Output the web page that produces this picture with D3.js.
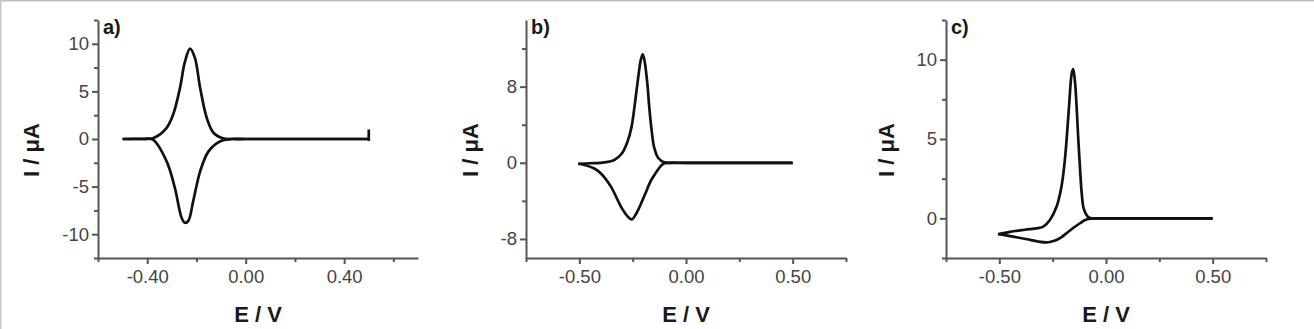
<!DOCTYPE html>
<html lang="en">
<head>
    <meta charset="UTF-8">
    <title>Cyclic voltammograms a) b) c)</title>
    <script src="https://d3js.org/d3.v7.min.js"></script>
    <style>
        body {
            margin: 0;
            background: #fff;
            font-family: 'Liberation Sans', Arial, sans-serif;
        }
        .axis path, .axis line {
            stroke: #555;
            stroke-width: 2;
        }
        .axis text {
            fill: #444;
            font-size: 18.5px;
            font-family: 'Liberation Sans', Arial, sans-serif;
        }
        .cv-line {
            fill: none;
            stroke: #111;
            stroke-width: 2.7;
        }
        .axis-title {
            font-size: 22px;
            font-weight: bold;
            fill: #1a1a1a;
        }
        .panel-label {
            font-size: 20px;
            font-weight: bold;
            fill: #1a1a1a;
        }
    </style>
</head>
<body>
    <div id="chart"></div>

    <script>
        // Data: [E (V), I (uA)]
        // a) forward scan (oxidation), then reverse scan
        const aForward = [
            [-0.50, 0], [-0.42, 0.02], [-0.377, 0.08], [-0.322, 1.15], [-0.295, 2.55],
            [-0.267, 5.35], [-0.247, 8.1], [-0.226, 9.5], [-0.206, 8.5], [-0.185, 5.35],
            [-0.158, 2.2], [-0.13, 0.63], [-0.089, 0.05], [-0.05, 0], [0.0, 0], [0.5, 0]
        ];
        const aReverse = [
            [0.5, 0], [0.0, 0], [-0.06, 0], [-0.103, -0.24], [-0.151, -1.3],
            [-0.185, -3.4], [-0.213, -6.5], [-0.233, -8.6], [-0.247, -8.8], [-0.26, -8.3],
            [-0.288, -5.1], [-0.322, -2.3], [-0.377, -0.07], [-0.42, 0], [-0.50, 0]
        ];
        // switching spike at the positive end of scan a)
        const aSwitch = [[0.5, -0.2], [0.5, 1.0]];

        // b)
        const bForward = [
            [-0.505, -0.1], [-0.45, -0.05], [-0.40, 0], [-0.336, 0.3], [-0.30, 1.0],
            [-0.273, 2.3], [-0.255, 3.8], [-0.242, 5.8], [-0.225, 8.8], [-0.212, 10.8],
            [-0.203, 11.4], [-0.195, 10.8], [-0.182, 8.5], [-0.172, 5.8], [-0.16, 3.2],
            [-0.149, 1.6], [-0.13, 0.5], [-0.102, 0.05], [-0.06, 0], [0.0, 0], [0.5, 0]
        ];
        const bReverse = [
            [0.5, 0], [0.0, 0], [-0.08, 0], [-0.10, -0.05], [-0.117, -0.3], [-0.14, -1.0],
            [-0.164, -1.85], [-0.19, -3.2], [-0.211, -4.3], [-0.235, -5.4], [-0.255, -5.95],
            [-0.275, -5.6], [-0.305, -4.6], [-0.352, -2.5], [-0.40, -1.1], [-0.43, -0.6],
            [-0.47, -0.25], [-0.505, -0.1]
        ];

        // c)
        const cForward = [
            [-0.506, -1.0], [-0.45, -0.85], [-0.38, -0.72], [-0.32, -0.62], [-0.294, -0.52],
            [-0.263, -0.1], [-0.232, 0.73], [-0.209, 1.98], [-0.195, 3.4], [-0.185, 4.9],
            [-0.172, 7.3], [-0.161, 9.1], [-0.154, 9.4], [-0.146, 8.7], [-0.138, 7.1],
            [-0.13, 5.0], [-0.122, 3.2], [-0.114, 1.6], [-0.106, 0.7], [-0.095, 0.3],
            [-0.083, 0.08], [-0.07, 0], [-0.03, 0], [0.0, 0], [0.5, 0]
        ];
        const cReverse = [
            [0.5, 0], [0.0, 0], [-0.05, 0], [-0.075, -0.02], [-0.10, -0.12], [-0.122, -0.31],
            [-0.153, -0.6], [-0.185, -0.94], [-0.21, -1.2], [-0.232, -1.36], [-0.255, -1.46],
            [-0.278, -1.52], [-0.32, -1.46], [-0.37, -1.32], [-0.42, -1.19], [-0.47, -1.07],
            [-0.506, -1.0]
        ];

        // Tick values
        const aXMajor = [-0.4, 0, 0.4];
        const aXMinor = [-0.6, -0.2, 0.2, 0.6];
        const aYMajor = [10, 5, 0, -5, -10];
        const aYMinor = [12.5, 7.5, 2.5, -2.5, -7.5, -12.5];

        const bXMajor = [-0.5, 0, 0.5];
        const bXMinor = [-0.75, -0.25, 0.25, 0.75];
        const bYMajor = [8, 0, -8];
        const bYMinor = [12, 4, -4];

        const cXMajor = [-0.5, 0, 0.5];
        const cXMinor = [-0.75, -0.25, 0.25, 0.75];
        const cYMajor = [10, 5, 0];
        const cYMinor = [12.5, 7.5, 2.5, -2.5];

        const panelLabels = ['a)', 'b)', 'c)'];
        const xTitle = 'E / V';
        const yTitle = 'I / \u03bcA';

        // Layout
        const W = 1314, H = 329;
        const panels = [
            { label: panelLabels[0], left: 98, right: 418, xDomain: [-0.6, 0.7], yDomain: [-12.5, 12.5],
              fwd: aForward, rev: aReverse, extra: aSwitch,
              xMajor: aXMajor, xMinor: aXMinor, yMajor: aYMajor, yMinor: aYMinor, yTitleX: 31 },
            { label: panelLabels[1], left: 526, right: 846, xDomain: [-0.75, 0.75], yDomain: [-10, 15],
              fwd: bForward, rev: bReverse, extra: null,
              xMajor: bXMajor, xMinor: bXMinor, yMajor: bYMajor, yMinor: bYMinor, yTitleX: 470 },
            { label: panelLabels[2], left: 946, right: 1266, xDomain: [-0.75, 0.75], yDomain: [-2.5, 12.5],
              fwd: cForward, rev: cReverse, extra: null,
              xMajor: cXMajor, xMinor: cXMinor, yMajor: cYMajor, yMinor: cYMinor, yTitleX: 886 }
        ];
        const plotTop = 20, plotBottom = 258;

        const svg = d3.select('#chart')
            .append('svg')
            .attr('width', W)
            .attr('height', H);

        // thin frame on top and left edges
        svg.append('line').attr('x1', 0).attr('x2', W).attr('y1', 0.75).attr('y2', 0.75)
            .attr('stroke', '#bdbdbd').attr('stroke-width', 1.5);
        svg.append('line').attr('x1', 0.75).attr('x2', 0.75).attr('y1', 0).attr('y2', H)
            .attr('stroke', '#c8c8c8').attr('stroke-width', 1.5);

        panels.forEach(p => {
            const x = d3.scaleLinear().domain(p.xDomain).range([p.left, p.right]);
            const y = d3.scaleLinear().domain(p.yDomain).range([plotBottom, plotTop]);

            // minor ticks first
            svg.append('g')
                .attr('class', 'axis')
                .attr('transform', `translate(0,${plotBottom})`)
                .call(d3.axisBottom(x).tickValues(p.xMinor).tickSize(4).tickSizeOuter(0).tickFormat(''))
                .call(g => g.select('.domain').remove());
            svg.append('g')
                .attr('class', 'axis')
                .attr('transform', `translate(${p.left},0)`)
                .call(d3.axisLeft(y).tickValues(p.yMinor).tickSize(4).tickSizeOuter(0).tickFormat(''))
                .call(g => g.select('.domain').remove());

            // major axes
            svg.append('g')
                .attr('class', 'axis')
                .attr('transform', `translate(0,${plotBottom})`)
                .call(d3.axisBottom(x).tickValues(p.xMajor).tickSize(6).tickSizeOuter(0).tickPadding(6)
                    .tickFormat(d => d.toFixed(2)));
            svg.append('g')
                .attr('class', 'axis')
                .attr('transform', `translate(${p.left},0)`)
                .call(d3.axisLeft(y).tickValues(p.yMajor).tickSize(6).tickSizeOuter(0).tickPadding(3)
                    .tickFormat(d => String(d)));

            // curves
            const line = d3.line()
                .x(d => x(d[0]))
                .y(d => y(d[1]))
                .curve(d3.curveCatmullRom.alpha(0.5));
            [p.fwd, p.rev].forEach(branch => {
                svg.append('path')
                    .datum(branch)
                    .attr('class', 'cv-line')
                    .attr('d', line);
            });
            if (p.extra) {
                svg.append('path')
                    .datum(p.extra)
                    .attr('class', 'cv-line')
                    .attr('d', d3.line().x(d => x(d[0])).y(d => y(d[1])));
            }

            // titles
            svg.append('text')
                .attr('class', 'axis-title')
                .attr('x', (p.left + p.right) / 2)
                .attr('y', 322)
                .attr('text-anchor', 'middle')
                .text(xTitle);
            svg.append('text')
                .attr('class', 'axis-title')
                .attr('transform', `translate(${p.yTitleX + 8},${150}) rotate(-90)`)
                .attr('text-anchor', 'middle')
                .text(yTitle);

            svg.append('text')
                .attr('class', 'panel-label')
                .attr('x', p.left + 5)
                .attr('y', 34)
                .text(p.label);
        });
    </script>
</body>
</html>
